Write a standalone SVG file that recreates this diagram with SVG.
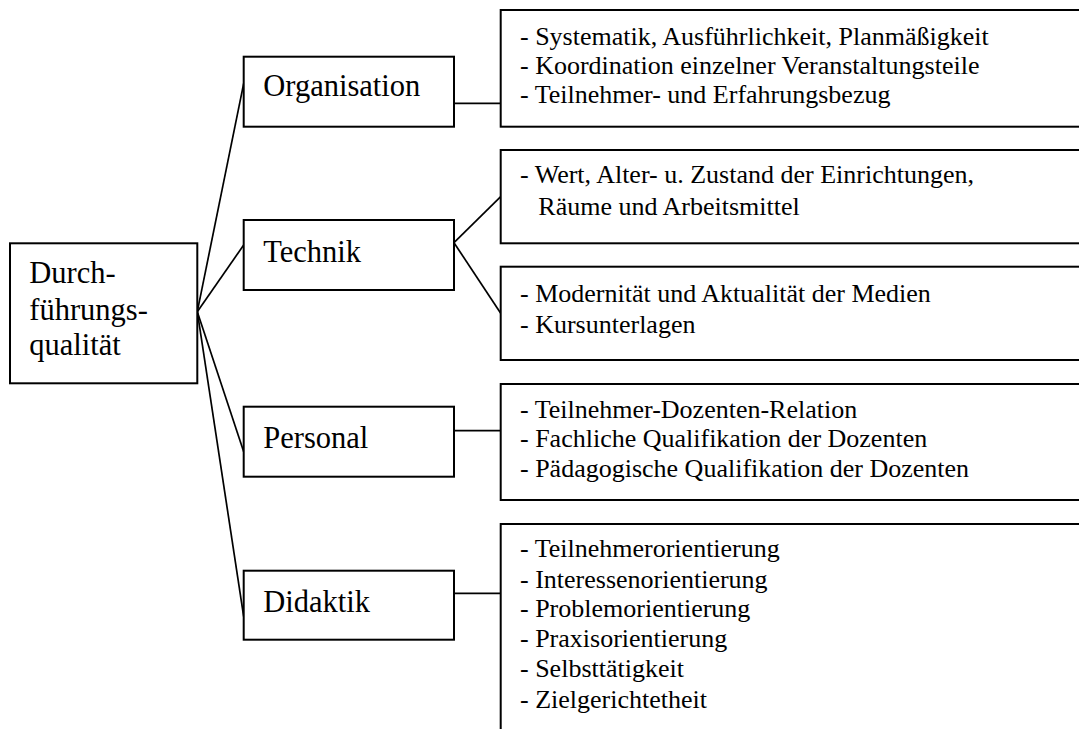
<svg xmlns="http://www.w3.org/2000/svg" width="1079" height="729" viewBox="0 0 1079 729">
<style>
.box{fill:#fff;stroke:#000;stroke-width:2}
.ln{fill:none;stroke:#000;stroke-width:1.7}
.lbl{font-size:30.5px;fill:#000}
.itm{font-size:26px;fill:#000}
</style>
<rect width="1079" height="729" fill="#fff"/>
<g id="connectors">
<line class="ln" x1="197.3" y1="311.7" x2="243.7" y2="83.3"/>
<line class="ln" x1="197.3" y1="311.7" x2="243.7" y2="245"/>
<line class="ln" x1="197.3" y1="311.7" x2="243.7" y2="451.7"/>
<line class="ln" x1="197.3" y1="311.7" x2="243.7" y2="616.7"/>
<line class="ln" x1="454" y1="103.3" x2="500.7" y2="103.3"/>
<line class="ln" x1="454" y1="242.7" x2="500.7" y2="196.7"/>
<line class="ln" x1="454" y1="242.7" x2="500.7" y2="313.3"/>
<line class="ln" x1="454" y1="430.7" x2="500.7" y2="430.7"/>
<line class="ln" x1="454" y1="593.3" x2="500.7" y2="593.3"/>
</g>
<g font-family="'Liberation Serif', 'DejaVu Serif', serif">
<g id="main">
<rect class="box" x="10" y="243.3" width="187.3" height="140"/>
<text class="lbl" x="29.3" y="282.7">Durch-</text>
<text class="lbl" x="29.3" y="320">führungs-</text>
<text class="lbl" x="29.3" y="355">qualität</text>
</g>
<g id="organisation">
<rect class="box" x="243.7" y="56.7" width="210.3" height="70"/>
<text class="lbl" x="263.3" y="96">Organisation</text>
</g>
<g id="technik">
<rect class="box" x="243.7" y="220" width="210.3" height="70"/>
<text class="lbl" x="263.3" y="261.7">Technik</text>
</g>
<g id="personal">
<rect class="box" x="243.7" y="406.7" width="210.3" height="70"/>
<text class="lbl" x="263.3" y="448.3">Personal</text>
</g>
<g id="didaktik">
<rect class="box" x="243.7" y="570.7" width="210.3" height="69"/>
<text class="lbl" x="263.3" y="611.7">Didaktik</text>
</g>
<g id="org-items">
<rect class="box" x="500.7" y="10" width="600" height="116.7"/>
<text class="itm" x="520" y="45">- Systematik, Ausführlichkeit, Planmäßigkeit</text>
<text class="itm" x="520" y="74">- Koordination einzelner Veranstaltungsteile</text>
<text class="itm" x="520" y="102.7">- Teilnehmer- und Erfahrungsbezug</text>
</g>
<g id="technik-items-1">
<rect class="box" x="500.7" y="150" width="600" height="93.3"/>
<text class="itm" x="520" y="183.3">- Wert, Alter- u. Zustand der Einrichtungen,</text>
<text class="itm" x="538.3" y="215">Räume und Arbeitsmittel</text>
</g>
<g id="technik-items-2">
<rect class="box" x="500.7" y="266.7" width="600" height="93.3"/>
<text class="itm" x="520" y="301.7">- Modernität und Aktualität der Medien</text>
<text class="itm" x="520" y="333.3">- Kursunterlagen</text>
</g>
<g id="personal-items">
<rect class="box" x="500.7" y="384" width="600" height="116"/>
<text class="itm" x="520" y="418.3">- Teilnehmer-Dozenten-Relation</text>
<text class="itm" x="520" y="447.3">- Fachliche Qualifikation der Dozenten</text>
<text class="itm" x="520" y="476.7">- Pädagogische Qualifikation der Dozenten</text>
</g>
<g id="didaktik-items">
<rect class="box" x="500.7" y="524" width="600" height="240"/>
<text class="itm" x="520" y="556.7">- Teilnehmerorientierung</text>
<text class="itm" x="520" y="588.3">- Interessenorientierung</text>
<text class="itm" x="520" y="617.3">- Problemorientierung</text>
<text class="itm" x="520" y="646.7">- Praxisorientierung</text>
<text class="itm" x="520" y="676.7">- Selbsttätigkeit</text>
<text class="itm" x="520" y="708.3">- Zielgerichtetheit</text>
</g>
</g>
</svg>
